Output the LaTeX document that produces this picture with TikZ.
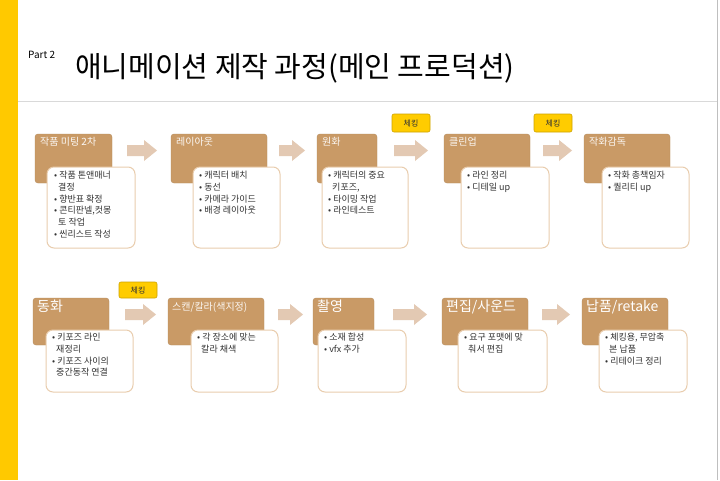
\documentclass[tikz,border=0pt]{standalone}
\usepackage{fontspec}
\setmainfont{Noto Sans CJK KR}
\begin{document}
\begin{tikzpicture}[x=1pt,y=-1pt,
  hdr/.style={fill=hbrown,draw=hbrown!90!black,line width=0.4pt,rounded corners=3pt},
  wbox/.style={fill=white,draw=wborder,line width=1pt,rounded corners=7pt},
  chk/.style={fill=chky,draw=chky!80!black,line width=0.6pt,rounded corners=2pt},
  htxt/.style={anchor=north west,inner sep=0pt,text=white!92!hbrown,font=\fontsize{10}{12}\selectfont},
  htxtb/.style={anchor=north west,inner sep=0pt,text=white,font=\fontsize{14}{16}\selectfont},
  btxt/.style={anchor=north west,inner sep=0pt,align=left,text=black!80,font=\fontsize{9}{11.7}\selectfont},
  ctxt/.style={inner sep=0pt,font=\fontsize{8}{9}\selectfont,text=black!80}]
\definecolor{hbrown}{HTML}{C99A66}
\definecolor{wborder}{HTML}{E9CDAE}
\definecolor{arr}{HTML}{E3C9B3}
\definecolor{chky}{HTML}{FFCC00}
\definecolor{strip}{HTML}{FFC900}
\useasboundingbox (0,0) rectangle (720,480);
\fill[white] (0,0) rectangle (720,480);
\fill[strip] (0,0) rectangle (18,480);
\draw[black!25] (717,0) -- (717,480);
\draw[black!15] (18,101) -- (717,101);
\node[anchor=base west,inner sep=0pt,font=\fontsize{10}{12}\selectfont] (part) at (28,58) {Part 2};
\node[anchor=base west,inner sep=0pt,font=\fontsize{29}{31}\selectfont] (title) at (75,77) {애니메이션 제작 과정(메인 프로덕션)};
\newcommand\barrow[4]{\fill[arr] (#1,#3+5) -- (#2-13,#3+5) -- (#2-13,#3) -- (#2,{(#3+#4)/2}) -- (#2-13,#4) -- (#2-13,#4-5) -- (#1,#4-5) -- cycle;}
% top row
\draw[hdr] (35,134) rectangle (112,183); \node[htxt] (h1) at (40,137) {작품 미팅 2차};
\draw[wbox] (47,167) rectangle (135,248);
\node[btxt] (b1) at (54,171) {• 작품 톤앤매너\\\ \ 결정\\• 향반표 확정\\• 콘티판넬,컷몽\\\ \ 토 작업\\• 씬리스트 작성};
\barrow{127}{157}{140}{161}
\draw[hdr] (171,134) rectangle (267,183); \node[htxt] (h2) at (176,137) {레이아웃};
\draw[wbox] (193,167) rectangle (280,248);
\node[btxt] (b2) at (199,171) {• 캐릭터 배치\\• 동선\\• 카메라 가이드\\• 배경 레이아웃};
\barrow{279}{305}{140}{161}
\draw[hdr] (317,134) rectangle (377,183); \node[htxt] (h3) at (322,137) {원화};
\draw[wbox] (322,167) rectangle (408,248);
\node[btxt] (b3) at (328,171) {• 캐릭터의 중요\\\ \ 키포즈,\\• 타이밍 작업\\• 라인테스트};
\draw[chk] (392,114) rectangle (430,132); \node[ctxt] (c1) at (411,123) {체킹};
\barrow{394}{428}{140}{161}
\draw[hdr] (444,134) rectangle (530,183); \node[htxt] (h4) at (449,137) {클린업};
\draw[wbox] (461,167) rectangle (549,248);
\node[btxt] (b4) at (467,171) {• 라인 정리\\• 디테일 up};
\draw[chk] (534,114) rectangle (572,132); \node[ctxt] (c2) at (553,123) {체킹};
\barrow{543}{572}{140}{161}
\draw[hdr] (584,134) rectangle (670,183); \node[htxt] (h5) at (589,137) {작화감독};
\draw[wbox] (602,167) rectangle (689,248);
\node[btxt] (b5) at (608,171) {• 작화 총책임자\\• 퀄리티 up};
% bottom row
\draw[hdr] (33,298) rectangle (109,345); \node[htxtb] (h6) at (37,300) {동화};
\draw[wbox] (46,330) rectangle (133,392);
\node[btxt] (b6) at (52,333) {• 키포즈 라인\\\ \ 재정리\\• 키포즈 사이의\\\ \ 중간동작 연결};
\draw[chk] (119,282) rectangle (157,298); \node[ctxt] (c3) at (138,290) {체킹};
\barrow{125}{156}{304}{325}
\draw[hdr] (168,298) rectangle (264,345); \node[htxt] (h7) at (172,302) {스캔/칼라(색지정)};
\draw[wbox] (191,330) rectangle (278,392);
\node[btxt] (b7) at (197,333) {• 각 장소에 맞는\\\ \ 칼라 채색};
\barrow{278}{303}{304}{325}
\draw[hdr] (313,298) rectangle (374,345); \node[htxtb] (h8) at (317,300) {촬영};
\draw[wbox] (318,330) rectangle (406,392);
\node[btxt] (b8) at (324,333) {• 소재 합성\\• vfx 추가};
\barrow{393}{427}{304}{325}
\draw[hdr] (442,298) rectangle (528,345); \node[htxtb] (h9) at (446,300) {편집/사운드};
\draw[wbox] (458,330) rectangle (547,392);
\node[btxt] (b9) at (464,333) {• 요구 포맷에 맞\\\ \ 춰서 편집};
\barrow{542}{570}{304}{325}
\draw[hdr] (582,298) rectangle (668,345); \node[htxtb] (h10) at (586,300) {납품/retake};
\draw[wbox] (599,330) rectangle (687,392);
\node[btxt] (b10) at (605,333) {• 체킹용, 무압축\\\ \ 본 납품\\• 리테이크 정리};
\end{tikzpicture}
\end{document}
